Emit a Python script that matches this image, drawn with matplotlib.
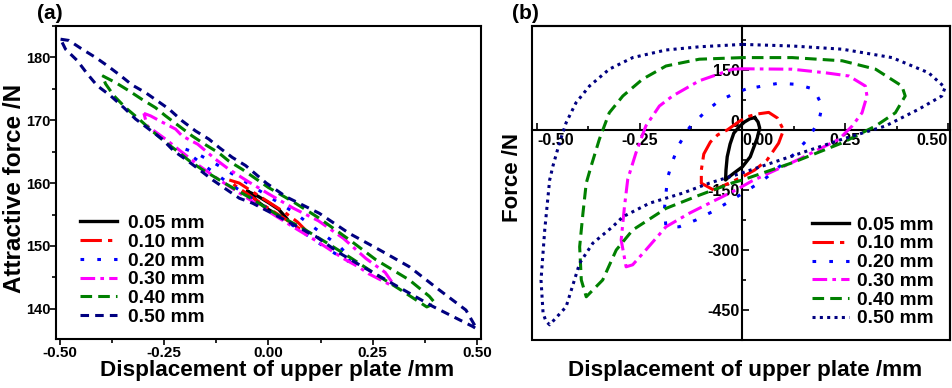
import matplotlib
matplotlib.use("Agg")
import matplotlib.pyplot as plt
from matplotlib.patches import Rectangle
from matplotlib.ticker import MultipleLocator

plt.rcParams['font.family'] = ['Liberation Sans', 'DejaVu Sans']
plt.rcParams['font.weight'] = 'bold'
plt.rcParams['axes.labelweight'] = 'bold'
plt.rcParams['axes.unicode_minus'] = False

labels = ["0.05 mm", "0.10 mm", "0.20 mm", "0.30 mm", "0.40 mm", "0.50 mm"]

# ---- panel (a): attractive force loops ----
a05_x = [-0.050, -0.025, 0.000, 0.025, 0.046, 0.030, 0.000, -0.025, -0.050]
a05_f = [158.7, 157.9, 156.9, 155.8, 154.2, 154.6, 155.8, 157.0, 158.7]

a10_x = [-0.094, -0.070, -0.040, 0.000, 0.040, 0.070, 0.094, 0.080, 0.040, 0.000, -0.040, -0.080, -0.094]
a10_f = [160.5, 160.0, 158.7, 157.0, 155.3, 153.8, 152.2, 152.5, 154.3, 156.0, 157.8, 159.6, 160.5]

a20_x = [-0.199, -0.174, -0.120, -0.060, 0.000, 0.060, 0.120, 0.170, 0.200,
         0.190, 0.140, 0.080, 0.020, -0.040, -0.100, -0.150, -0.190, -0.199]
a20_f = [165.4, 164.8, 162.8, 160.4, 157.9, 155.4, 152.4, 150.0, 147.8,
         147.6, 149.6, 152.3, 155.0, 157.6, 160.2, 162.6, 164.6, 165.4]

a30_x = [-0.299, -0.283, -0.255, -0.223, -0.207, -0.170, -0.127, -0.095, -0.050, 0.000, 0.060, 0.120,
         0.180, 0.234, 0.280, 0.298, 0.290, 0.240, 0.218, 0.180, 0.120, 0.060, 0.000, -0.060, -0.120,
         -0.167, -0.211, -0.247, -0.291, -0.299]
a30_f = [171.1, 170.7, 169.7, 168.6, 167.5, 166.2, 163.8, 162.2, 160.3, 158.3, 156.0, 154.0,
         151.2, 148.0, 145.8, 144.1, 143.9, 145.6, 146.6, 148.0, 150.6, 153.0, 155.5, 158.0, 160.6,
         162.8, 165.1, 167.0, 169.1, 171.1]

a40_x = [-0.399, -0.367, -0.335, -0.303, -0.271, -0.247, -0.215, -0.183, -0.151, -0.119, -0.095, -0.063,
         0.000, 0.060, 0.120, 0.194, 0.258, 0.338, 0.386, 0.400,
         0.380, 0.320, 0.260, 0.200, 0.140, 0.080, 0.020, -0.040, -0.100, -0.160, -0.191, -0.219,
         -0.251, -0.279, -0.311, -0.343, -0.371, -0.391, -0.399]
a40_f = [177.1, 176.0, 174.7, 173.3, 172.0, 170.7, 169.1, 167.5, 166.1, 164.8, 163.5, 162.2,
         159.3, 157.0, 154.5, 151.0, 147.8, 144.6, 142.0, 140.9,
         140.3, 142.9, 145.4, 148.0, 150.5, 152.9, 155.0, 157.5, 159.8, 162.2, 163.6, 165.1,
         166.7, 168.3, 170.2, 172.0, 173.9, 175.8, 177.1]

a50_x = [-0.499, -0.479, -0.447, -0.415, -0.387, -0.355, -0.327, -0.295, -0.239, -0.207, -0.175, -0.143,
         -0.119, -0.087, -0.055, -0.005, 0.043, 0.122, 0.194, 0.266, 0.338, 0.410, 0.474, 0.500,
         0.490, 0.442, 0.394, 0.338, 0.282, 0.226, 0.170, 0.114, 0.074, 0.026, -0.038, -0.070,
         -0.134, -0.167, -0.199, -0.227, -0.255, -0.287, -0.319, -0.347, -0.379, -0.411, -0.435,
         -0.459, -0.487, -0.499]
a50_f = [182.9, 182.7, 181.3, 180.0, 178.7, 177.1, 175.6, 174.4, 171.8, 169.9, 168.3, 167.0,
         165.7, 164.1, 162.8, 160.0, 157.8, 155.2, 152.0, 149.4, 146.7, 143.0, 139.8, 136.8,
         137.2, 138.8, 140.4, 142.5, 144.6, 146.7, 148.9, 151.5, 152.9, 154.6, 156.8, 157.6,
         160.5, 162.2, 163.8, 165.1, 167.0, 168.6, 170.2, 172.0, 173.9, 175.5, 177.4,
         179.5, 181.3, 182.9]

# ---- panel (b): force loops ----
b05_x = [0.030, 0.038, 0.042, 0.036, 0.019, 0.000, -0.021, -0.036, -0.041, -0.040, -0.037, -0.030,
         -0.021, -0.008, 0.005, 0.018, 0.030]
b05_f = [31, 20, 5, -20, -67, -92, -108, -120, -125, -100, -67, -35, -8, 8, 20, 28, 31]

b10_x = [-0.070, -0.100, -0.100, -0.094, -0.078, -0.060, -0.037, -0.010, 0.011, 0.036, 0.064, 0.085,
         0.100, 0.088, 0.060, 0.030, 0.000, -0.033, -0.070]
b10_f = [-150, -133, -100, -60, -30, -12, 0, 20, 33, 40, 44, 30, 0, -33, -75, -100, -117, -133, -150]

b20_x = [0.008, -0.016, -0.057, -0.093, -0.129, -0.154, -0.170, -0.182, -0.186, -0.190, -0.186, -0.154,
         -0.113, -0.073, -0.032, 0.049, 0.125, 0.162, 0.186, 0.194, 0.174, 0.133, 0.089, 0.049, 0.008]
b20_f = [102, 93, 73, 43, 6, -36, -78, -119, -158, -200, -242, -242,
         -225, -204, -179, -127, -61, -19, 23, 60, 102, 114, 117, 110, 102]

b30_x = [0.000, -0.024, -0.105, -0.170, -0.202, -0.235, -0.259, -0.279, -0.287, -0.295, -0.283, -0.267,
         -0.235, -0.186, -0.129, -0.065, -0.016, 0.024, 0.138, 0.235, 0.267, 0.291, 0.303, 0.299,
         0.259, 0.202, 0.121, 0.000]
b30_f = [153, 152, 123, 85, 60, 10, -57, -123, -192, -275, -342, -337,
         -300, -242, -208, -175, -150, -127, -73, -23, 10, 43, 85, 110,
         135, 143, 152, 153]

b40_x = [0.000, -0.105, -0.186, -0.243, -0.291, -0.324, -0.348, -0.368, -0.380, -0.388, -0.396, -0.392,
         -0.380, -0.340, -0.307, -0.267, -0.186, -0.105, -0.024, 0.000, 0.121, 0.243, 0.324, 0.372,
         0.396, 0.388, 0.324, 0.243, 0.121, 0.000]
b40_f = [181, 177, 160, 127, 85, 43, -23, -90, -133, -208, -292, -375,
         -417, -375, -300, -250, -196, -163, -132, -125, -82, -32, 10, 43,
         85, 110, 152, 173, 181, 181]

b50_x = [0.000, -0.105, -0.186, -0.267, -0.324, -0.372, -0.405, -0.429, -0.445, -0.461, -0.469, -0.481,
         -0.490, -0.485, -0.478, -0.469, -0.429, -0.396, -0.364, -0.316, -0.291, -0.226, -0.146, -0.081,
         0.000, 0.121, 0.243, 0.348, 0.429, 0.485, 0.493, 0.453, 0.364, 0.243, 0.121, 0.000]
b50_f = [214, 208, 200, 181, 152, 110, 68, 18, -32, -90, -125, -250,
         -375, -458, -478, -487, -442, -333, -283, -242, -217, -183, -158, -133,
         -107, -65, -23, 10, 52, 85, 106, 143, 181, 202, 210, 214]

a_loops = [(a05_x, a05_f), (a10_x, a10_f), (a20_x, a20_f), (a30_x, a30_f), (a40_x, a40_f), (a50_x, a50_f)]
b_loops = [(b05_x, b05_f), (b10_x, b10_f), (b20_x, b20_f), (b30_x, b30_f), (b40_x, b40_f), (b50_x, b50_f)]

colors = ['#000000', '#ff0000', '#0000ff', '#ff00ff', '#008000', '#000080']
styles_a = ['-', (0, (7, 2, 1.4, 2)), (0, (1.2, 4.3)), (0, (4.8, 1.7, 1.2, 1.7)), (0, (3.8, 2)), (0, (2.8, 2))]
styles_b = ['-', (0, (7, 2, 1.4, 2)), (0, (1.2, 4.3)), (0, (4.8, 1.7, 1.2, 1.7)), (0, (3.8, 2)), (0, (1.0, 1.4))]

fig = plt.figure(figsize=(9.52, 3.88), dpi=100)
ax1 = fig.add_axes([0.0588, 0.1263, 0.4464, 0.8067])
ax2 = fig.add_axes([0.5588, 0.1237, 0.4391, 0.8093])

leg_kw = dict(loc='upper left', frameon=False, fontsize=13.8, handlelength=1.95,
              labelspacing=0.07, borderpad=0, borderaxespad=0)

# (a)
for (x, f), c, ls, lab in zip(a_loops, colors, styles_a, labels):
    ax1.plot(x, f, color=c, ls=ls, lw=2.4 if ls == '-' else 2.2, label=lab)
ax1.set_xlim(-0.51, 0.51)
ax1.set_ylim(135.2, 185)
ax1.xaxis.set_major_locator(MultipleLocator(0.25))
ax1.xaxis.set_minor_locator(MultipleLocator(0.125))
ax1.yaxis.set_major_locator(MultipleLocator(10))
ax1.yaxis.set_minor_locator(MultipleLocator(5))
ax1.xaxis.set_major_formatter(plt.FormatStrFormatter('%.2f'))
ax1.tick_params(which='both', direction='out', top=False, right=False, width=1.2)
ax1.tick_params(axis='x', pad=0.5, labelsize=11)
ax1.tick_params(axis='y', pad=-0.5, labelsize=10.5)
ax1.tick_params(which='major', length=4.5)
ax1.tick_params(which='minor', length=3)
for s in ax1.spines.values():
    s.set_linewidth(1.5)
ax1.set_xlabel("Displacement of upper plate /mm", fontsize=16.2)
ax1.set_ylabel("Attractive force /N", fontsize=17.5)
ax1.xaxis.set_label_coords(0.521, -0.066)
ax1.yaxis.set_label_coords(-0.071, 0.481)
ax1.legend(bbox_to_anchor=(0.056, 0.397), handletextpad=0.55, **leg_kw)

# (b)
for (x, f), c, ls, lab in zip(b_loops, colors, styles_b, labels):
    ax2.plot(x, f, color=c, ls=ls, lw=2.4 if ls == '-' else 2.2, label=lab, zorder=3)
ax2.set_xlim(-0.512, 0.505)
ax2.set_ylim(-525, 260)
ax2.xaxis.set_major_locator(MultipleLocator(0.25))
ax2.xaxis.set_minor_locator(MultipleLocator(0.125))
ax2.yaxis.set_major_locator(MultipleLocator(150))
ax2.yaxis.set_minor_locator(MultipleLocator(75))
ax2.xaxis.set_major_formatter(plt.FormatStrFormatter('%.2f'))
ax2.spines['left'].set_position(('data', 0))
ax2.spines['bottom'].set_position(('data', 0))
for s in ax2.spines.values():
    s.set_linewidth(1.5)
ax2.add_patch(Rectangle((0, 0), 1, 1, transform=ax2.transAxes, fill=False, lw=1.5,
                        edgecolor='black', clip_on=False, zorder=4))
ax2.tick_params(which='both', direction='in', top=False, right=False, width=1.2, labelsize=11.5, pad=2)
ax2.tick_params(which='major', length=5)
ax2.tick_params(which='minor', length=3)
fig.canvas.draw()
for t in ax2.get_xticklabels():
    txt = t.get_text()
    if txt in ('-0.50', '0.00'):
        t.set_ha('left')
    elif txt == '0.50':
        t.set_ha('right')
for t in ax2.get_yticklabels():
    if t.get_text() == '0':
        t.set_va('bottom')
ax2.set_xlabel("Displacement of upper plate /mm", fontsize=16.2)
ax2.set_ylabel("Force /N", fontsize=16)
ax2.xaxis.set_label_coords(0.51, -0.064)
ax2.yaxis.set_label_coords(-0.022, 0.516)
ax2.legend(bbox_to_anchor=(0.67, 0.394), handletextpad=0.42, **leg_kw)

fig.text(0.039, 0.964, "(a)", fontsize=15, fontweight='bold', va='center')
fig.text(0.538, 0.964, "(b)", fontsize=15, fontweight='bold', va='center')

fig.savefig("out.png", dpi=100)
